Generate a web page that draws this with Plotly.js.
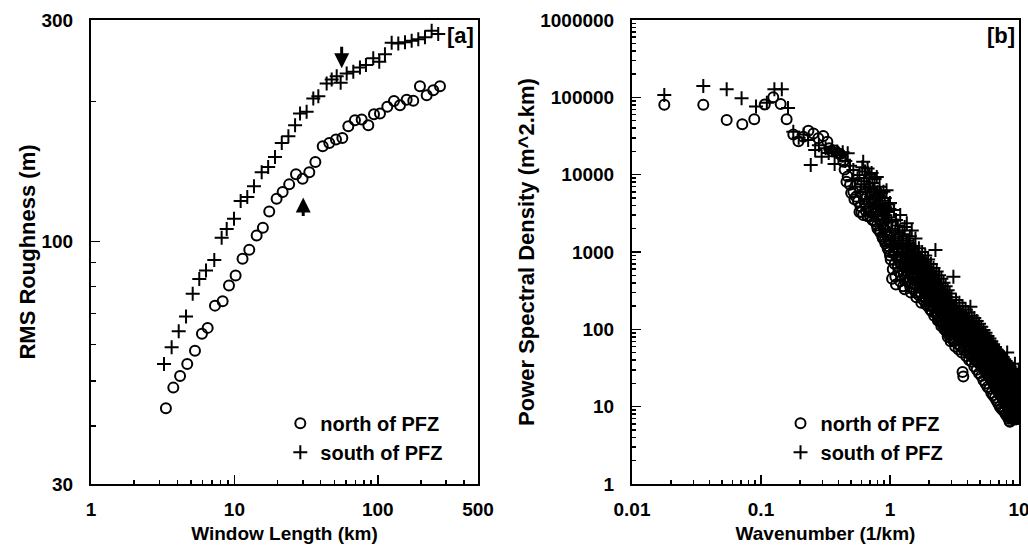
<!DOCTYPE html>
<html>
<head>
<meta charset="utf-8">
<script src="https://cdn.plot.ly/plotly-3.0.1.min.js"></script>
<style>html,body{margin:0;padding:0;background:#fff;}#chart{width:1028px;height:550px;}</style>
</head>
<body>
<div id="chart"></div>
<script>
// ---------- Panel [a]: RMS roughness vs window length ----------
const winNorth = [3.33,3.75,4.18,4.69,5.31,5.94,6.51,7.32,8.28,9.17,10.2,11.4,12.7,14.3,15.8,17.5,19.7,21.7,24.1,26.9,29.9,33.3,36.7,41.3,45.9,51.1,56.6,62.3,69.3,77.2,85.9,94.1,103.6,116.5,129.7,142.8,159,176.8,196.8,219.3,243.8,271.5];
const rmsNorth = [43.7,48.4,51.3,54.4,58.1,63.2,65.1,72.7,74.3,80.3,84.4,91.7,95.9,103,107,116,123.6,127.7,132.7,139.5,136.5,141,148.3,160.3,163,165.8,167,177,182.4,183,178,188,188.6,195,200.8,196.6,202,201,216,206.6,211.8,216];
const winSouth = [3.23,3.65,4.09,4.6,5.12,5.69,6.34,7.24,8.15,8.84,9.94,11.06,12.3,13.7,15.5,17.2,19.2,21.4,23.8,26.5,28.7,31.9,35.5,38.5,44,47.7,51.7,55.1,60.7,67.5,75.1,82.7,93,102.4,112.2,125,139,154.8,172.3,191.7,213.4,237.6,264];
const rmsSouth = [54.4,59.1,64,68.9,77.1,83,86.5,91.2,101.8,106.4,111.9,122.2,124.6,131.4,141,144.7,152,163,168.5,178,188.6,190.2,203.3,205.6,219,223.4,227,219.6,230,232,237,240,248,243.8,253,268,267,268.5,270.6,272.5,275.3,284.5,279.8];
const arrowDownTip = [56, 236];
const arrowUpTip = [30.2, 124.3];

// ---------- Panel [b]: power spectral density vs wavenumber ----------
const kNorth = [0.0178,0.0357,0.0542,0.0716,0.0887,0.107,0.1245,0.142,0.158,0.178,0.195,0.213,0.233,0.255,0.278,0.304,0.327,
0.338,0.356,0.374,0.392,0.41,0.427,0.435,0.445,0.46,0.47,0.49,0.50,0.52,0.53,0.545,0.565,0.58,0.59,
0.60,0.61,0.62,0.63,0.64,0.65,0.66,0.67,0.68,0.69,0.70,0.71,0.72,0.73,0.74,0.75,0.76,0.77,0.78,0.79,0.80,0.81,0.82,0.83,0.84,0.85,0.86,0.87,0.88,0.89,0.90,0.91,0.92,0.93,0.94,0.95,0.96,0.97,0.98,0.99,1.00,
1.025,1.05,1.075,1.10,1.125,1.15,1.175,1.20,1.225,1.25,1.275,1.30,1.325,1.35,1.375,1.40,1.425,1.45,1.475,1.50,1.525,1.55,1.575,1.60,1.625,1.65,1.675,1.70,1.725,1.75,1.775,1.80,1.825,1.85,1.875,1.90,1.925,1.95,1.975,2.00,
2.025,2.05,2.075,2.10,2.125,2.15,2.175,2.20,2.225,2.25,2.275,2.30,2.325,2.35,2.375,2.40,2.425,2.45,2.475,2.50,2.525,2.55,2.575,2.60,2.625,2.65,2.675,2.70,2.725,2.75,2.775,2.80,2.825,2.85,2.875,2.90,2.925,2.95,2.975,3.00,
3.05,3.10,3.15,3.20,3.25,3.30,3.35,3.40,3.45,3.50,3.55,3.60,3.65,3.70,3.75,3.80,3.85,3.90,3.95,4.00,
4.05,4.10,4.15,4.20,4.25,4.30,4.35,4.40,4.45,4.50,4.55,4.60,4.65,4.70,4.75,4.80,4.85,4.90,4.95,5.00,
5.05,5.10,5.15,5.20,5.25,5.30,5.35,5.40,5.45,5.50,5.55,5.60,5.65,5.70,5.75,5.80,5.85,5.90,5.95,6.00,
6.05,6.10,6.15,6.20,6.25,6.30,6.35,6.40,6.45,6.50,6.55,6.60,6.65,6.70,6.75,6.80,6.85,6.90,6.95,7.00,
7.05,7.10,7.15,7.20,7.25,7.30,7.35,7.40,7.45,7.50,7.55,7.60,7.65,7.70,7.75,7.80,7.85,7.90,7.95,8.00,
8.05,8.10,8.15,8.20,8.25,8.30,8.35,8.40,8.45,8.50,8.55,8.60,8.65,8.70,8.75,8.80,8.85,8.90,8.95,9.00,
9.05,9.10,9.15,9.20,9.25,9.30,9.35,9.40,9.45,9.50,9.55,9.60,9.65,9.70,9.75,9.80,9.85,9.90,9.95,
1.0125,1.0375,1.0625,1.0875,1.1125,1.1375,1.1625,1.1875,1.2125,1.2375,1.2625,1.2875,1.3125,1.3375,1.3625,1.3875,1.4125,1.4375,1.4625,1.4875,
1.5125,1.5375,1.5625,1.5875,1.6125,1.6375,1.6625,1.6875,1.7125,1.7375,1.7625,1.7875,1.8125,1.8375,1.8625,1.8875,1.9125,1.9375,1.9625,1.9875,
2.0125,2.0375,2.0625,2.0875,2.1125,2.1375,2.1625,2.1875,2.2125,2.2375,2.2625,2.2875,2.3125,2.3375,2.3625,2.3875,2.4125,2.4375,2.4625,2.4875,
2.5125,2.5375,2.5625,2.5875,2.6125,2.6375,2.6625,2.6875,2.7125,2.7375,2.7625,2.7875,2.8125,2.8375,2.8625,2.8875,2.9125,2.9375,2.9625,2.9875,
3.025,3.075,3.125,3.175,3.225,3.275,3.325,3.375,3.425,3.475,3.525,3.575,3.625,3.675,3.725,3.775,3.825,3.875,3.925,3.975,
4.025,4.075,4.125,4.175,4.225,4.275,4.325,4.375,4.425,4.475,4.525,4.575,4.625,4.675,4.725,4.775,4.825,4.875,4.925,4.975,
5.025,5.075,5.125,5.175,5.225,5.275,5.325,5.375,5.425,5.475,5.525,5.575,5.625,5.675,5.725,5.775,5.825,5.875,5.925,5.975,
6.025,6.075,6.125,6.175,6.225,6.275,6.325,6.375,6.425,6.475,6.525,6.575,6.625,6.675,6.725,6.775,6.825,6.875,6.925,6.975,
7.025,7.075,7.125,7.175,7.225,7.275,7.325,7.375,7.425,7.475,7.525,7.575,7.625,7.675,7.725,7.775,7.825,7.875,7.925,7.975,
8.025,8.075,8.125,8.175,8.225,8.275,8.325,8.375,8.425,8.475,8.525,8.575,8.625,8.675,8.725,8.775,8.825,8.875,8.925,8.975,
9.025,9.075,9.125,9.175,9.225,9.275,9.325,9.375,9.425,9.475,9.525,9.575,9.625,9.675,9.725,9.775,9.825,9.875,9.925,9.975];
const psdNorth = [80000,80000,51000,45000,52000,81000,100000,82000,52000,33000,27000,31000,37000,34000,29500,31600,26700,
22000,20000,20500,19000,18500,17000,14700,11700,8100,9500,7400,5800,6000,4800,5200,4500,3300,3900,
3300,5600,3000,4800,4200,3400,5200,2900,3600,4400,2900,3300,4600,2600,3800,3100,2500,3500,3300,2200,2000,2900,2700,1900,1800,2500,2300,1600,1500,2100,2000,1400,1300,1900,1700,1200,1100,1600,1400,1000,900,
1300,600,950,480,1500,650,880,420,700,1000,520,330,780,560,900,400,620,300,700,450,820,380,520,260,600,420,700,300,480,220,560,350,600,260,420,210,500,330,550,240,
380,180,430,270,460,200,320,150,360,230,400,170,270,130,310,200,340,140,230,110,260,170,290,120,190,105,220,140,250,100,160,80,190,120,210,90,140,70,160,100,
150,75,120,60,170,95,130,55,105,70,140,50,28,24.5,110,60,85,45,120,70,
95,40,80,55,110,38,70,50,95,33,62,45,85,30,58,40,75,27,50,36,
68,25,46,33,62,22,42,30,56,20,38,27,50,18,34,25,46,17,31,23,
42,15,28,21,38,14,26,19,35,13,24,17,32,12,22,16,30,11,20,15,
27,10,19,14,25,9.5,17,13,23,9,16,12,21,8.5,15,11,20,8,14,10.5,
18,7.5,13,9.5,17,7,12,9,6.5,6.4,15,11,8,19,7,13,10,16,7.2,12,
9,17,6.8,11,8.5,15,7,12,9,18,6.9,10,8,14,7.3,11,8.6,13,7.5,
800,450,1000,700,380,1100,560,750,500,850,360,640,480,1000,420,540,750,350,500,600,
330,470,650,300,420,540,280,380,600,300,360,480,240,330,450,250,300,420,200,280,
360,210,260,340,170,240,300,190,230,290,160,210,260,150,190,240,130,170,220,125,
160,200,115,150,180,100,135,170,95,125,150,90,115,140,85,105,130,78,100,120,
90,120,70,100,85,125,65,95,80,115,60,88,75,105,55,80,68,98,52,75,
62,88,48,68,58,82,45,62,54,76,41,58,50,70,38,54,46,65,36,50,
43,60,33,46,40,56,31,43,37,52,28,40,34,48,26,37,32,44,24,34,
30,41,22,31,27,38,20,29,25,35,19,27,23,32,17,25,21,29,16,23,
20,27,15,21,18,25,13.5,19,17,23,12.5,18,15.5,21,11.5,16.5,14.5,19.5,10.5,15,
13.5,18,10,14,12.5,17,9,13,11.5,16,8.5,12,10.5,15,8,11.5,9.8,14,7.8,11,
9.5,13.5,7.5,10.5,9,12.5,7.2,10,8.8,12,7,9.5,8.5,11.5,7,9.2,8.2,11,7.2,9];
const kSouth = [0.0178,0.0357,0.0542,0.0707,0.0915,0.111,0.127,0.145,0.162,0.178,0.196,0.214,0.232,0.243,0.263,0.281,0.295,0.317,0.335,0.355,0.372,0.39,0.41,0.43,0.45,0.47,0.49,0.51,0.52,0.54,0.56,0.58,0.59,
0.60,0.61,0.62,0.63,0.64,0.65,0.66,0.67,0.68,0.69,0.70,0.71,0.72,0.73,0.74,0.75,0.76,0.77,0.78,0.79,0.80,0.81,0.82,0.83,0.84,0.85,0.86,0.87,0.88,0.89,0.90,0.91,0.92,0.93,0.94,0.95,0.96,0.97,0.98,0.99,1.00,
1.025,1.05,1.075,1.10,1.125,1.15,1.175,1.20,1.225,1.25,1.275,1.30,1.325,1.35,1.375,1.40,1.425,1.45,1.475,1.50,1.525,1.55,1.575,1.60,1.625,1.65,1.675,1.70,1.725,1.75,1.775,1.80,1.825,1.85,1.875,1.90,1.925,1.95,1.975,2.00,
2.025,2.05,2.075,2.10,2.125,2.15,2.175,2.20,2.225,2.25,2.275,2.30,2.325,2.35,2.375,2.40,2.425,2.45,2.475,2.50,2.525,2.55,2.575,2.60,2.625,2.65,2.675,2.70,2.725,2.75,2.775,2.80,2.825,2.85,2.875,2.90,2.925,2.95,2.975,3.00,
3.05,3.10,3.15,3.20,3.25,3.30,3.35,3.40,3.45,3.50,3.55,3.60,3.65,3.70,3.75,3.80,3.85,3.90,3.95,4.00,
4.05,4.10,4.15,4.20,4.25,4.30,4.35,4.40,4.45,4.50,4.55,4.60,4.65,4.70,4.75,4.80,4.85,4.90,4.95,5.00,
5.05,5.10,5.15,5.20,5.25,5.30,5.35,5.40,5.45,5.50,5.55,5.60,5.65,5.70,5.75,5.80,5.85,5.90,5.95,6.00,
6.05,6.10,6.15,6.20,6.25,6.30,6.35,6.40,6.45,6.50,6.55,6.60,6.65,6.70,6.75,6.80,6.85,6.90,6.95,7.00,
7.05,7.10,7.15,7.20,7.25,7.30,7.35,7.40,7.45,7.50,7.55,7.60,7.65,7.70,7.75,7.80,7.85,7.90,7.95,8.00,
8.05,8.10,8.15,8.20,8.25,8.30,8.35,8.40,8.45,8.50,8.55,8.60,8.65,8.70,8.75,8.80,8.85,8.90,8.95,9.00,
9.05,9.10,9.15,9.20,9.25,9.30,9.35,9.40,9.45,9.50,9.55,9.60,9.65,9.70,9.75,9.80,9.85,9.90,9.95,
1.0125,1.0375,1.0625,1.0875,1.1125,1.1375,1.1625,1.1875,1.2125,1.2375,1.2625,1.2875,1.3125,1.3375,1.3625,1.3875,1.4125,1.4375,1.4625,1.4875,
1.5125,1.5375,1.5625,1.5875,1.6125,1.6375,1.6625,1.6875,1.7125,1.7375,1.7625,1.7875,1.8125,1.8375,1.8625,1.8875,1.9125,1.9375,1.9625,1.9875,
2.0125,2.0375,2.0625,2.0875,2.1125,2.1375,2.1625,2.1875,2.2125,2.2375,2.2625,2.2875,2.3125,2.3375,2.3625,2.3875,2.4125,2.4375,2.4625,2.4875,
2.5125,2.5375,2.5625,2.5875,2.6125,2.6375,2.6625,2.6875,2.7125,2.7375,2.7625,2.7875,2.8125,2.8375,2.8625,2.8875,2.9125,2.9375,2.9625,2.9875,
3.025,3.075,3.125,3.175,3.225,3.275,3.325,3.375,3.425,3.475,3.525,3.575,3.625,3.675,3.725,3.775,3.825,3.875,3.925,3.975,
4.025,4.075,4.125,4.175,4.225,4.275,4.325,4.375,4.425,4.475,4.525,4.575,4.625,4.675,4.725,4.775,4.825,4.875,4.925,4.975,
5.025,5.075,5.125,5.175,5.225,5.275,5.325,5.375,5.425,5.475,5.525,5.575,5.625,5.675,5.725,5.775,5.825,5.875,5.925,5.975,
6.025,6.075,6.125,6.175,6.225,6.275,6.325,6.375,6.425,6.475,6.525,6.575,6.625,6.675,6.725,6.775,6.825,6.875,6.925,6.975,
7.025,7.075,7.125,7.175,7.225,7.275,7.325,7.375,7.425,7.475,7.525,7.575,7.625,7.675,7.725,7.775,7.825,7.875,7.925,7.975,
8.025,8.075,8.125,8.175,8.225,8.275,8.325,8.375,8.425,8.475,8.525,8.575,8.625,8.675,8.725,8.775,8.825,8.875,8.925,8.975,
9.025,9.075,9.125,9.175,9.225,9.275,9.325,9.375,9.425,9.475,9.525,9.575,9.625,9.675,9.725,9.775,9.825,9.875,9.925,9.975];
const psdSouth = [107000,140000,127000,97000,76000,85000,127000,127000,73000,36000,30000,33000,28000,13300,20800,24000,17100,22000,19000,21000,13700,20000,18000,19500,15000,18900,13000,8500,11500,7000,9000,9900,6000,
7500,12500,14700,8200,11000,6000,9000,12000,7000,10000,6700,5200,10500,7800,4800,6400,8800,5500,4200,9300,6000,3800,5200,7000,4000,5800,3300,4600,3500,6000,3000,5000,3800,2600,6300,3300,2400,4100,2800,3600,4300,
2500,1400,3500,1800,1100,2200,1500,3000,900,1700,1200,2100,800,2350,1300,700,1600,1000,1900,650,1200,850,1500,560,1000,700,1120,480,850,600,1000,420,750,520,900,360,650,450,800,320,
580,400,700,280,520,360,620,250,450,1060,330,560,230,400,290,500,200,360,260,450,180,320,230,400,160,290,210,360,145,260,190,320,130,230,170,290,120,210,155,260,
110,480,200,130,240,95,170,125,220,88,155,110,200,80,140,100,180,72,130,92,
165,66,118,196,84,150,60,108,78,140,55,98,70,128,50,90,64,118,46,82,
58,108,42,75,54,98,38,69,49,90,35,63,45,82,32,58,41,76,30,53,
38,70,27,49,35,64,25,45,32,59,23,42,30,54,21,39,28,50,20,36,
26,46,18,33,24,43,17,31,22,40,16,29,21,37,15,27,19,35,14,25,
18,50,32,13,23,17,30,12,22,16,28,11.5,20,15,27,11,19,14,25,10.5,
18,13,24,10,17,36,12.5,22,9.5,16,12,21,9,15,11.5,20,8.8,14,30,
1200,2000,900,1500,2600,1000,1300,1900,750,1100,1600,700,950,1400,620,850,1250,560,760,1100,
520,700,1000,470,640,900,430,580,820,400,530,750,370,490,680,340,450,620,310,420,
560,290,380,520,260,350,470,240,320,430,220,300,390,200,270,360,185,250,330,170,
230,300,155,210,280,145,195,260,135,180,240,125,165,220,115,155,205,108,145,190,
140,200,110,160,130,185,100,145,120,170,92,132,110,158,85,122,102,145,78,112,
95,135,72,104,88,125,67,96,82,116,62,89,76,108,58,83,71,100,54,77,
66,93,50,72,62,87,47,67,58,81,44,62,54,76,41,58,50,71,38,54,
47,66,36,51,44,62,34,48,41,58,32,45,39,55,30,42,37,52,28,40,
35,49,26,37,33,46,25,35,31,44,23,33,29,41,22,31,27,39,21,29,
26,37,20,28,25,35,19,26,24,33,18,25,22,31,17,24,21,30,16,23,
20,28,15.5,22,19,27,15,21,18,26,14,20,17.5,25,13.5,19,17,24,13,18];

// ---------- Tick labels ----------
const xTicksA = [1, 10, 100, 500];
const xTickTextA = ['1', '10', '100', '500'];
const yTicksA = [30, 100, 300];
const yTickTextA = ['30', '100', '300'];
const xTicksB = [0.01, 0.1, 1, 10];
const xTickTextB = ['0.01', '0.1', '1', '10'];
const yTicksB = [1, 10, 100, 1000, 10000, 100000, 1000000];
const yTickTextB = ['1', '10', '100', '1000', '10000', '100000', '1000000'];
const legendNames = ['north of PFZ', 'south of PFZ'];

// minor tick positions (digits 2..9 of each decade, inside the axis range)
function minorTicks(lo, hi) {
  const out = [];
  for (let e = -3; e <= 6; e++) {
    for (let d = 2; d <= 9; d++) {
      const v = d * Math.pow(10, e);
      if (v > lo * 1.0001 && v < hi * 0.9999) out.push(v);
    }
  }
  return out;
}

const FONT = 'Liberation Sans, Arial, sans-serif';
const circ = {symbol: 'circle-open', size: 10, color: '#000', line: {width: 2, color: '#000'}};
const crs = {symbol: 'cross-thin-open', size: 10, color: '#000', line: {width: 2, color: '#000'}};

const traces = [
  {x: winNorth, y: rmsNorth, mode: 'markers', marker: circ, name: legendNames[0], xaxis: 'x', yaxis: 'y', legend: 'legend'},
  {x: winSouth, y: rmsSouth, mode: 'markers', marker: crs, name: legendNames[1], xaxis: 'x', yaxis: 'y', legend: 'legend'},
  {x: kNorth, y: psdNorth, mode: 'markers', marker: circ, name: legendNames[0], xaxis: 'x2', yaxis: 'y2', legend: 'legend2'},
  {x: kSouth, y: psdSouth, mode: 'markers', marker: crs, name: legendNames[1], xaxis: 'x2', yaxis: 'y2', legend: 'legend2'},
  // empty traces that only carry the minor-tick axes
  {x: [], y: [], xaxis: 'x3', yaxis: 'y3', mode: 'markers', showlegend: false, hoverinfo: 'skip'},
  {x: [], y: [], xaxis: 'x4', yaxis: 'y4', mode: 'markers', showlegend: false, hoverinfo: 'skip'}
];

const tickFont = {family: FONT, size: 19, color: '#000', weight: 'bold'};
const titleFont = {family: FONT, size: 19, color: '#000', weight: 'bold'};
const yTitleFont = {family: FONT, size: 22, color: '#000', weight: 'bold'};

function axis(extra) {
  return Object.assign({
    type: 'log', showline: true, linewidth: 2, linecolor: '#000', mirror: true,
    ticks: 'inside', ticklen: 9, tickwidth: 1.5, tickcolor: '#000',
    tickmode: 'array', showgrid: false, zeroline: false, tickfont: tickFont,
    ticklabeloverflow: 'allow', automargin: false, fixedrange: true
  }, extra);
}
function minorAxis(extra, lo, hi) {
  return Object.assign({
    type: 'log', showline: false, showgrid: false, zeroline: false,
    ticks: 'inside', ticklen: 4.5, tickwidth: 1.5, tickcolor: '#000',
    tickmode: 'array', tickvals: minorTicks(lo, hi), showticklabels: false,
    automargin: false, fixedrange: true
  }, extra);
}

const lg = {
  font: {family: FONT, size: 20, color: '#000', weight: 'bold'},
  bgcolor: 'rgba(0,0,0,0)', borderwidth: 0, xanchor: 'left', yanchor: 'top',
  itemclick: false, tracegroupgap: 0
};

const layout = {
  width: 1028, height: 550,
  margin: {l: 91, r: 9, t: 20, b: 66},
  paper_bgcolor: '#fff', plot_bgcolor: 'rgba(0,0,0,0)',
  showlegend: true,
  xaxis: axis({domain: [0, 0.41703], range: [0, Math.log10(500)], tickvals: xTicksA, ticktext: xTickTextA, anchor: 'y', ticklabelstandoff: 7,
    title: {text: 'Window Length (km)', font: titleFont, standoff: 8}}),
  yaxis: axis({domain: [0, 1], range: [Math.log10(30), Math.log10(300)], tickvals: yTicksA, ticktext: yTickTextA, anchor: 'x', ticklabelstandoff: 12,
    title: {text: 'RMS Roughness (m)', font: yTitleFont, standoff: 0}}),
  xaxis2: axis({domain: [0.58297, 1], range: [-2, 1], tickvals: xTicksB, ticktext: xTickTextB, anchor: 'y2', ticklabelstandoff: 7,
    title: {text: 'Wavenumber (1/km)', font: titleFont, standoff: 8}}),
  yaxis2: axis({domain: [0, 1], range: [0, 6], tickvals: yTicksB, ticktext: yTickTextB, anchor: 'x2', ticklabelstandoff: 12,
    title: {text: 'Power Spectral Density (m^2.km)', font: yTitleFont, standoff: 0}}),
  xaxis3: minorAxis({domain: [0, 0.41703], range: [0, Math.log10(500)], anchor: 'y3'}, 1, 500),
  yaxis3: minorAxis({domain: [0, 1], range: [Math.log10(30), Math.log10(300)], anchor: 'x3'}, 30, 300),
  xaxis4: minorAxis({domain: [0.58297, 1], range: [-2, 1], anchor: 'y4'}, 0.01, 10),
  yaxis4: minorAxis({domain: [0, 1], range: [0, 6], anchor: 'x4'}, 1, 1000000),
  legend: Object.assign({x: 0.204, y: 0.173}, lg),
  legend2: Object.assign({x: 0.743, y: 0.173}, lg),
  annotations: [
    {text: '[a]', xref: 'x domain', yref: 'y domain', x: 1, y: 1, xanchor: 'right', yanchor: 'top', xshift: -2, yshift: -1, showarrow: false,
     font: {family: FONT, size: 22, color: '#000', weight: 'bold'}},
    {text: '[b]', xref: 'x2 domain', yref: 'y2 domain', x: 1, y: 1, xanchor: 'right', yanchor: 'top', xshift: -2, yshift: -1, showarrow: false,
     font: {family: FONT, size: 22, color: '#000', weight: 'bold'}},
    {text: '', xref: 'x', yref: 'y', x: Math.log10(arrowDownTip[0]), y: Math.log10(arrowDownTip[1]), ax: 0, ay: -23,
     showarrow: true, arrowhead: 2, arrowsize: 1, arrowwidth: 3, arrowcolor: '#000'},
    {text: '', xref: 'x', yref: 'y', x: Math.log10(arrowUpTip[0]), y: Math.log10(arrowUpTip[1]), ax: 0, ay: 20,
     showarrow: true, arrowhead: 2, arrowsize: 1, arrowwidth: 3, arrowcolor: '#000'}
  ]
};

Plotly.newPlot('chart', traces, layout, {displayModeBar: false, staticPlot: true});
</script>
</body>
</html>
